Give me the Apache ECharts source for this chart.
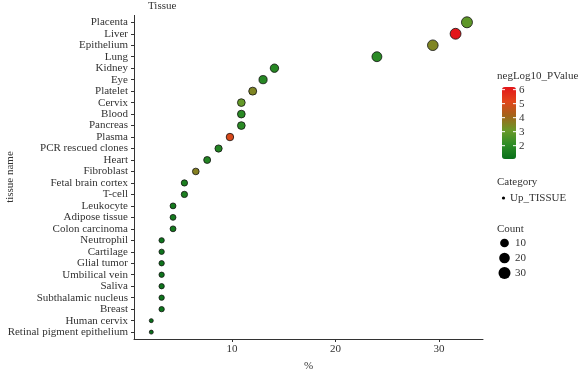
<!DOCTYPE html>
<html><head><meta charset="utf-8">
<script src="https://cdn.jsdelivr.net/npm/echarts@6/dist/echarts.min.js"></script>
<style>html,body{margin:0;padding:0;background:#fff}#c{width:578px;height:369px}</style>
</head><body><div id="c"></div>
<script>
const tissues = ["Placenta","Liver","Epithelium","Lung","Kidney","Eye","Platelet","Cervix","Blood","Pancreas","Plasma","PCR rescued clones","Heart","Fibroblast","Fetal brain cortex","T-cell","Leukocyte","Adipose tissue","Colon carcinoma","Neutrophil","Cartilage","Glial tumor","Umbilical vein","Saliva","Subthalamic nucleus","Breast","Human cervix","Retinal pigment epithelium"];
const percent = [32.7,31.6,29.4,24.0,14.1,13.0,12.0,10.9,10.9,10.9,9.8,8.7,7.6,6.5,5.4,5.4,4.3,4.3,4.3,3.2,3.2,3.2,3.2,3.2,3.2,3.2,2.2,2.2];
const counts = [30,29,27,22,13,12,11,10,10,10,9,8,7,6,5,5,4,4,4,3,3,3,3,3,3,3,2,2];
const negLog10P = [2.9,6.19,3.5,2.0,1.9,1.9,3.5,3.0,2.0,2.0,5.0,1.8,1.8,3.6,1.6,1.6,1.4,1.4,1.4,1.2,1.2,1.2,1.2,1.2,1.2,1.2,1.05,1.05];
const xTicks = [10,20,30];
const colorTicks = [2,3,4,5,6];
const countLegend = [10,20,30];
const categoryName = "Up_TISSUE";

const FONT = "Liberation Serif";
const TXT = "#333";
const pMin = 1.05, pMax = 6.19;
const cMin = 2, cMax = 30;
function sz(c){ return 4 + 7*Math.sqrt((c-cMin)/(cMax-cMin)); }

const data = tissues.map((t,i)=>[percent[i], i, negLog10P[i], counts[i]]);

// legend geometry
const barLeft = 502, barTop = 87, barW = 14, barH = 72;
const graphics = [];
function txt(x,y,s,align){ graphics.push({type:'text', x:x, y:y, style:{text:s, font:'11px "'+FONT+'"', fill:TXT, textAlign:align||'left', textVerticalAlign:'middle'}, silent:true}); }
txt(148, 6, "Tissue");
txt(497, 76, "negLog10_PValue");
colorTicks.forEach(v=>{
  const y = barTop + barH*(pMax - v)/(pMax - pMin);
  txt(519, y, String(v));
  graphics.push({type:'line', shape:{x1:barLeft, y1:y, x2:barLeft+3, y2:y}, style:{stroke:'#fff', lineWidth:1}, silent:true, z:100});
  graphics.push({type:'line', shape:{x1:barLeft+barW-3, y1:y, x2:barLeft+barW, y2:y}, style:{stroke:'#fff', lineWidth:1}, silent:true, z:100});
});
txt(497, 182, "Category");
graphics.push({type:'circle', shape:{cx:503.5, cy:198, r:1.6}, style:{fill:'#000'}, silent:true});
txt(510, 198, categoryName);
txt(497, 229, "Count");
countLegend.forEach((c,k)=>{
  const y = 243 + k*15;
  graphics.push({type:'circle', shape:{cx:504.5, cy:y, r:sz(c)/2+0.5}, style:{fill:'#000'}, silent:true});
  txt(515, y, String(c));
});
// y axis title
graphics.push({type:'text', x:10, y:177, rotation:Math.PI/2, style:{text:'tissue name', font:'11px "'+FONT+'"', fill:TXT, textAlign:'center', textVerticalAlign:'middle'}, silent:true});

const chart = echarts.init(document.getElementById('c'));
chart.setOption({
  animation:false,
  textStyle:{fontFamily:FONT},
  grid:{left:134, right:95, top:15.4, bottom:30, containLabel:false, outerBoundsMode:'none'},
  xAxis:{type:'value', min:0.53, max:34.25, position:'bottom',
    name:'%', nameLocation:'middle', nameGap:22, nameTextStyle:{fontFamily:FONT, fontSize:11, color:TXT},
    axisLine:{show:true, onZero:false, lineStyle:{color:'#333', width:1}},
    axisTick:{show:true, length:3, customValues:xTicks, lineStyle:{color:'#333'}},
    axisLabel:{customValues:xTicks, fontFamily:FONT, fontSize:11, color:TXT, margin:5},
    splitLine:{show:false}},
  yAxis:{type:'value', inverse:true, min:-0.6, max:tissues.length-0.4, position:'left',
    axisLine:{show:true, onZero:false, lineStyle:{color:'#333', width:1}},
    axisTick:{show:true, length:3, customValues:tissues.map((t,i)=>i), lineStyle:{color:'#333'}},
    axisLabel:{customValues:tissues.map((t,i)=>i), formatter:v=>tissues[Math.round(v)]||'', fontFamily:FONT, fontSize:11, color:TXT, margin:6},
    splitLine:{show:false}},
  visualMap:{type:'continuous', dimension:2, seriesIndex:0, min:pMin, max:pMax, calculable:false, show:true,
    left:barLeft, top:barTop, itemWidth:barW, itemHeight:barH, padding:0, text:null, showLabel:false,
    inRange:{color:['#09701a','#2d8c26','#6a9a28','#a2641a','#e2441a','#e3161a']}},
  series:[{type:'scatter', name:categoryName, data:data,
    symbolSize:v=>sz(v[3]),
    itemStyle:{borderColor:'#111', borderWidth:0.8, opacity:1},
    emphasis:{disabled:true}}],
  graphic:graphics
});
</script></body></html>
